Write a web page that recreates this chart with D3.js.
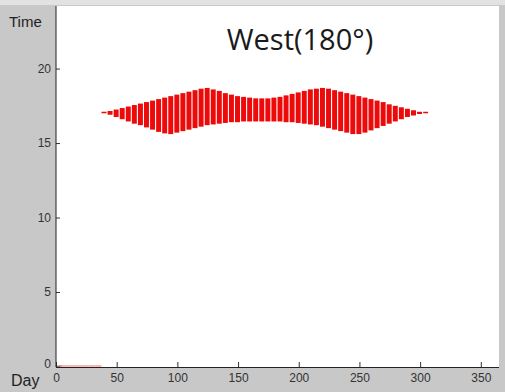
<!DOCTYPE html>
<html>
<head>
<meta charset="utf-8">
<script src="https://cdn.jsdelivr.net/npm/d3@7"></script>
<style>
    html, body { margin: 0; padding: 0; background: #c8c8c8; }
    #chart { width: 505px; height: 392px; }
</style>
</head>
<body>
<div id="chart"></div>
<script>
// sampled every 5 days; 0 = no sun in that direction
let days = d3.range(0, 310, 5);
let upper = [
    0, 0, 0, 0, 0, 0, 0, 0,
    17.05, 17.15, 17.25, 17.35, 17.45, 17.55, 17.65, 17.75, 17.85, 17.95,
    18.05, 18.15, 18.25, 18.35, 18.45, 18.55, 18.65, 18.7, 18.6, 18.5,
    18.35, 18.25, 18.15, 18.1, 18.05, 18.0, 18.0, 18.0, 18.05, 18.1,
    18.2, 18.3, 18.4, 18.5, 18.6, 18.65, 18.7, 18.65, 18.55, 18.45,
    18.35, 18.25, 18.15, 18.05, 17.95, 17.85, 17.75, 17.6, 17.5, 17.4,
    17.3, 17.2, 17.1, 17.05
];
let lower = [
    0, 0, 0, 0, 0, 0, 0, 0,
    17.05, 16.9, 16.75, 16.6, 16.45, 16.3, 16.2, 16.05, 15.9, 15.75,
    15.65, 15.6, 15.7, 15.8, 15.9, 16.0, 16.1, 16.2, 16.25, 16.3,
    16.35, 16.4, 16.4, 16.45, 16.45, 16.45, 16.45, 16.45, 16.45, 16.45,
    16.4, 16.4, 16.35, 16.3, 16.25, 16.2, 16.1, 16.0, 15.9, 15.8,
    15.7, 15.6, 15.6, 15.7, 15.85, 16.0, 16.15, 16.3, 16.45, 16.6,
    16.75, 16.85, 16.95, 17.05
];
let xTicks = [0, 50, 100, 150, 200, 250, 300, 350];
let yTicks = [0, 5, 10, 15, 20];

let svgWidth = 505,
    svgHeight = 392,
    plot = {left: 56, right: 499, top: 6, bottom: 367};

let svg = d3.select('#chart')
    .append('svg')
    .attr('width', svgWidth)
    .attr('height', svgHeight)
    .style('font-family', 'Arial, "Liberation Sans", sans-serif');

svg.append('rect')
    .attr('x', 0).attr('y', 0)
    .attr('width', svgWidth).attr('height', 5)
    .attr('fill', '#e2e2e2');

svg.append('rect')
    .attr('x', plot.left).attr('y', plot.top)
    .attr('width', plot.right - plot.left)
    .attr('height', plot.bottom - plot.top)
    .attr('fill', '#ffffff');

let x = d3.scaleLinear().domain([0, 365]).range([plot.left, plot.right]),
    y = d3.scaleLinear().domain([0, 24.2]).range([plot.bottom - 0.5, plot.top]);

let data = days.map((d, i) => ({day: d, lo: lower[i], hi: upper[i]}));
let step = x(5) - x(0);

// days with no sun: thin line on the axis
svg.append('g')
    .selectAll('rect')
    .data(data.filter(d => d.hi === 0))
    .enter()
    .append('rect')
    .attr('x', d => Math.max(plot.left, x(d.day) - step / 2))
    .attr('width', step)
    .attr('y', y(0) - 1)
    .attr('height', 1)
    .attr('fill', '#f07070');

svg.append('g')
    .selectAll('rect')
    .data(data.filter(d => d.hi > 0))
    .enter()
    .append('rect')
    .attr('x', d => x(d.day) - step / 2)
    .attr('width', step - 1.1)
    .attr('y', d => d.hi > d.lo ? y(d.hi) : y(d.hi) - 0.75)
    .attr('height', d => Math.max(1.5, y(d.lo) - y(d.hi)))
    .attr('fill', '#ec0a0a');

// x axis
let gx = svg.append('g')
    .attr('transform', `translate(0, ${plot.bottom})`)
    .call(d3.axisBottom(x).tickValues(xTicks).tickSize(-5).tickPadding(6).tickFormat(d3.format('d')));
gx.select('.domain').remove();
gx.selectAll('.tick line').attr('stroke', '#333');
gx.selectAll('.tick text').attr('fill', '#333').style('font-size', '12px');

// y axis
let gy = svg.append('g')
    .attr('transform', `translate(${plot.left}, 0)`)
    .call(d3.axisLeft(y).tickValues(yTicks).tickSize(-4).tickPadding(5));
gy.select('.domain').remove();
gy.selectAll('.tick line').attr('stroke', '#333');
gy.selectAll('.tick text').attr('fill', '#333').style('font-size', '12px');
gy.selectAll('.tick').filter(d => d === 0).select('text').attr('dy', '0.1em');

svg.append('line')
    .attr('x1', plot.left).attr('x2', plot.left)
    .attr('y1', plot.top).attr('y2', plot.bottom)
    .attr('stroke', '#222');
svg.append('line')
    .attr('x1', plot.left).attr('x2', plot.right)
    .attr('y1', plot.bottom + 0.5).attr('y2', plot.bottom + 0.5)
    .attr('stroke', '#222');

svg.append('text')
    .attr('x', 9).attr('y', 27)
    .attr('fill', '#222')
    .style('font-size', '15px')
    .text('Time');

svg.append('text')
    .attr('x', 11).attr('y', 386)
    .attr('fill', '#222')
    .style('font-size', '16px')
    .text('Day');

svg.append('text')
    .attr('x', 300).attr('y', 50)
    .attr('text-anchor', 'middle')
    .attr('fill', '#1a1a1a')
    .style('font-family', '"Open Sans", sans-serif')
    .style('font-size', '29px')
    .text('West(180°)');
</script>
</body>
</html>
